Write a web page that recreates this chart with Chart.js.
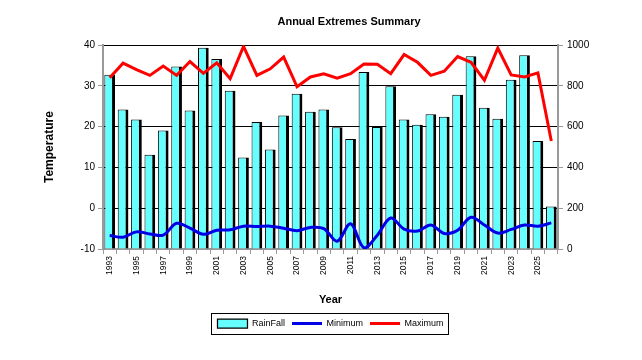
<!DOCTYPE html>
<html>
<head>
<meta charset="utf-8">
<title>Annual Extremes Summary</title>
<script src="https://cdn.jsdelivr.net/npm/chart.js@4.4.1/dist/chart.umd.min.js"></script>
<style>
  body { margin: 0; background: #fff; }
</style>
</head>
<body>
<canvas id="chart" width="642" height="360"></canvas>
<script>
const years = [
  '1993', '1994', '1995', '1996', '1997', '1998', '1999', '2000', '2001', '2002',
  '2003', '2004', '2005', '2006', '2007', '2008', '2009', '2010', '2011', '2012',
  '2013', '2014', '2015', '2016', '2017', '2018', '2019', '2020', '2021', '2022',
  '2023', '2024', '2025', '2026'
];

// rainfall, read against the right axis (0 - 1000)
const rainFall = [
  855, 684, 636, 463, 581, 895, 680, 988, 932, 777,
  449, 623, 488, 655, 762, 673, 684, 597, 540, 868,
  599, 799, 635, 610, 661, 649, 757, 946, 693, 639,
  830, 951, 530, 209
];

// temperatures, read against the left axis (-10 - 40)
const minimum = [
  -6.7, -7.1, -5.8, -6.3, -6.6, -3.7, -4.9, -6.4, -5.4, -5.3,
  -4.4, -4.5, -4.4, -4.9, -5.5, -4.7, -5.0, -8.1, -3.8, -9.7,
  -6.6, -2.4, -5.1, -5.6, -4.1, -6.2, -5.4, -2.2, -4.1, -6.1,
  -5.2, -4.1, -4.4, -3.6
];
const maximum = [
  32.0, 35.6, 34.0, 32.6, 34.9, 32.6, 36.0, 33.1, 35.7, 31.8,
  39.7, 32.6, 34.2, 37.1, 29.8, 32.2, 33.0, 31.9, 33.0, 35.4,
  35.3, 33.0, 37.7, 35.8, 32.6, 33.6, 37.2, 35.8, 31.4, 39.3,
  32.7, 32.2, 33.2, 16.5
];

const FONT = "'Liberation Sans', Arial, sans-serif";
const AXIS_GREY = '#999999';

// box drawn round the legend items
const legendFrame = {
  id: 'legendFrame',
  afterDraw(chart) {
    const boxes = chart.legend && chart.legend.legendHitBoxes;
    if (!boxes || !boxes.length) return;
    const left = Math.min(...boxes.map(b => b.left)) - 6;
    const right = Math.max(...boxes.map(b => b.left + b.width)) + 5;
    const mid = boxes[0].top + boxes[0].height / 2;
    const ctx = chart.ctx;
    ctx.save();
    ctx.strokeStyle = '#000';
    ctx.lineWidth = 1;
    ctx.strokeRect(Math.round(left) + 0.5, Math.round(mid - 10.5) + 0.5, Math.round(right - left), 21);
    ctx.restore();
  }
};

new Chart(document.getElementById('chart'), {
  type: 'bar',
  data: {
    labels: years,
    datasets: [
      {
        type: 'bar',
        label: 'RainFall',
        data: rainFall,
        yAxisID: 'y1',
        order: 2,
        backgroundColor: '#66FFFF',
        borderColor: '#000',
        borderWidth: { top: 1, left: 1, right: 3, bottom: 0 },
        pointStyle: 'rect',
        barPercentage: 0.8,
        categoryPercentage: 1.0
      },
      {
        type: 'line',
        label: 'Minimum',
        data: minimum,
        yAxisID: 'y',
        order: 1,
        borderColor: '#0000E6',
        backgroundColor: '#0000E6',
        borderWidth: 3,
        tension: 0.35,
        pointRadius: 0,
        pointStyle: 'line'
      },
      {
        type: 'line',
        label: 'Maximum',
        data: maximum,
        yAxisID: 'y',
        order: 0,
        borderColor: '#FF0000',
        backgroundColor: '#FF0000',
        borderWidth: 3,
        tension: 0,
        pointRadius: 0,
        pointStyle: 'line'
      }
    ]
  },
  options: {
    responsive: false,
    animation: false,
    layout: { padding: { left: 56, right: 0, top: 0, bottom: 22 } },
    scales: {
      x: {
        offset: true,
        afterFit: (scale) => { scale.height = 63; },
        grid: {
          offset: true,
          drawOnChartArea: false,
          tickLength: 5,
          tickColor: AXIS_GREY
        },
        border: { color: AXIS_GREY, width: 2 },
        ticks: {
          autoSkip: false,
          minRotation: 90,
          maxRotation: 90,
          padding: 2,
          color: '#000',
          font: { family: FONT, size: 8.5 },
          callback: function (value, index) {
            return index % 2 === 0 ? this.getLabelForValue(value) : '';
          }
        },
        title: {
          display: true,
          text: 'Year',
          color: '#000',
          font: { family: FONT, size: 11, weight: 'bold' },
          padding: { top: 0, bottom: 5.4 }
        }
      },
      y: {
        position: 'left',
        min: -10,
        max: 40,
        afterFit: (scale) => { scale.width = 47; },
        grid: {
          color: '#000',
          lineWidth: 1,
          tickLength: 5,
          tickColor: AXIS_GREY
        },
        border: { color: AXIS_GREY, width: 2 },
        ticks: {
          stepSize: 10,
          padding: 3,
          color: '#000',
          font: { family: FONT, size: 10 }
        },
        title: {
          display: true,
          text: 'Temperature',
          color: '#000',
          font: { family: FONT, size: 12, weight: 'bold' },
          padding: { top: -13.2, bottom: 0 }
        }
      },
      y1: {
        position: 'right',
        min: 0,
        max: 1000,
        afterFit: (scale) => { scale.width = 84; },
        grid: {
          drawOnChartArea: false,
          tickLength: 5,
          tickColor: AXIS_GREY
        },
        border: { color: AXIS_GREY, width: 2 },
        ticks: {
          stepSize: 200,
          padding: 4,
          color: '#000',
          font: { family: FONT, size: 10 },
          callback: (value) => String(value)
        }
      }
    },
    plugins: {
      title: {
        display: true,
        text: 'Annual Extremes Summary',
        color: '#000',
        font: { family: FONT, size: 11, weight: 'bold' },
        padding: { top: 15, bottom: 17 }
      },
      legend: {
        position: 'bottom',
        fullSize: false,
        labels: {
          usePointStyle: true,
          pointStyleWidth: 30,
          boxHeight: 10,
          padding: 7,
          color: '#000',
          font: { family: FONT, size: 9 },
          sort: (a, b) => a.datasetIndex - b.datasetIndex
        }
      },
      tooltip: { enabled: true }
    }
  },
  plugins: [legendFrame]
});
</script>
</body>
</html>
